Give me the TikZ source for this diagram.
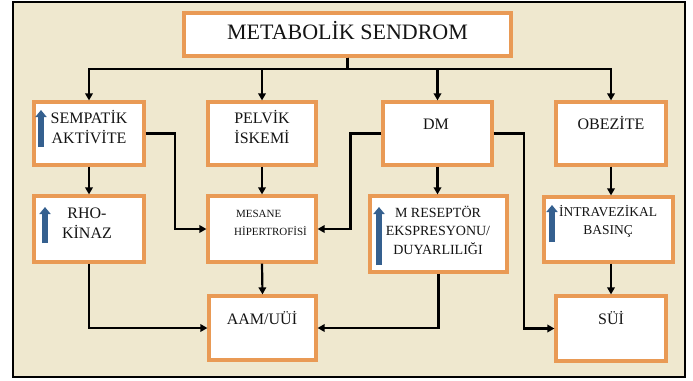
\documentclass[tikz,border=0pt]{standalone}
\usepackage{fontspec}
\setmainfont{Liberation Serif}
\usepackage{tikz}
\usetikzlibrary{calc,arrows.meta}
\definecolor{ms-bg}{HTML}{EFE8CF}
\definecolor{ms-orange}{HTML}{E99A55}
\definecolor{ms-blue}{HTML}{35608F}
\definecolor{ms-text}{HTML}{141414}

\begin{document}
\begin{tikzpicture}[x=1pt, y=-1pt,
    box/.style={draw=ms-orange, line width=3.2pt, fill=white, inner sep=0pt},
    txt/.style={inner sep=0pt, align=center, text=ms-text, font=\fontsize{16}{20}\selectfont},
    arr/.style={-{Triangle[length=7pt,width=7.5pt]}, line width=2.2pt, black},
    uparr/.style={ms-blue, line width=5.5pt, -{Triangle[length=7pt,width=11pt]}}]

    % Frame and background
    \useasboundingbox (0,0) rectangle (693,380);
    \draw[fill=ms-bg, line width=2pt] (13,1.5) rectangle (685,377);

    % Title
    \node[box, minimum width=327pt, minimum height=43pt] (title) at (347.5,34.5) {};
    \node[txt, font=\fontsize{22}{26}\selectfont, anchor=base] (title-t) at (347.5,39.5) {METABOLİK SENDROM};

    % First row
    \node[box, minimum width=110pt, minimum height=63pt] (semp) at (89,133.5) {};
    \node[box, minimum width=108pt, minimum height=63pt] (pelv) at (262,133.5) {};
    \node[box, minimum width=109pt, minimum height=63pt] (dm) at (437.5,133.5) {};
    \node[box, minimum width=110pt, minimum height=63pt] (obez) at (611,133.5) {};

    \node[txt] (semp-t) at (89,127) {SEMPATİK\\AKTİVİTE};
    \node[txt] (pelv-t) at (262,127) {PELVİK\\İSKEMİ};
    \node[txt, anchor=base] (dm-t) at (436,129) {DM};
    \node[txt, anchor=base] (obez-t) at (611,129) {OBEZİTE};

    % Second row
    \node[box, minimum width=110pt, minimum height=66pt] (rho) at (89,229) {};
    \node[box, minimum width=108pt, minimum height=66pt] (mes) at (262,229) {};
    \node[box, minimum width=137pt, minimum height=76pt] (mres) at (438.5,234) {};
    \node[box, minimum width=129pt, minimum height=65pt] (intra) at (608.5,229.5) {};

    \node[txt] (rho-t) at (87,223) {RHO-\\KİNAZ};
    \node[txt, align=left, anchor=west, font=\fontsize{11}{18}\selectfont] (mes-t) at (234,223) {\,MESANE\\HİPERTROFİSİ};
    \node[txt, font=\fontsize{14}{18.5}\selectfont] (mres-t) at (438,230) {M RESEPTÖR\\EKSPRESYONU/\\DUYARLILIĞI};
    \node[txt, font=\fontsize{13.5}{18}\selectfont] (intra-t) at (608,221.5) {İNTRAVEZİKAL\\BASINÇ};

    % Third row
    \node[box, minimum width=107pt, minimum height=64pt] (aam) at (262.5,328) {};
    \node[box, minimum width=110pt, minimum height=65pt] (sui) at (611,328.5) {};

    \node[txt, anchor=base] (aam-t) at (262,324) {AAM/UÜİ};
    \node[txt, anchor=base] (sui-t) at (611,324) {SÜİ};

    % Blue up arrows
    \foreach \x/\ystart/\yend in {41/147/110, 45/243/207, 379/265/207, 552/242/205} {
        \draw[uparr] (\x,\ystart) -- (\x,\yend);
    }

    % Connectors from the title
    \foreach \n in {semp, pelv, dm, obez} {
        \draw[arr] (title.south) -- ++(0,11) -| (\n.north);
    }

    % Vertical connectors
    \draw[arr] (semp.south) -- (rho.north);
    \draw[arr] (pelv.south) -- (mes.north);
    \draw[arr] (dm.south) -- (dm.south |- mres.north);
    \draw[arr] (obez.south) -- (obez.south |- intra.north);
    \draw[arr] (mes.south) -- (aam.north);
    \draw[arr] (sui.north |- intra.south) -- (sui.north);

    % Side connectors
    \draw[arr] (semp.east) -- ++(29,0) |- (mes.west);
    \draw[arr] (dm.west) -- ++(-31,0) |- (mes.east);
    \draw[arr] (dm.east) -- ++(30,0) |- (sui.west);
    \draw[arr] (rho.south) |- (aam.west);
    \draw[arr] (mres.south) |- (aam.east);
\end{tikzpicture}
\end{document}
